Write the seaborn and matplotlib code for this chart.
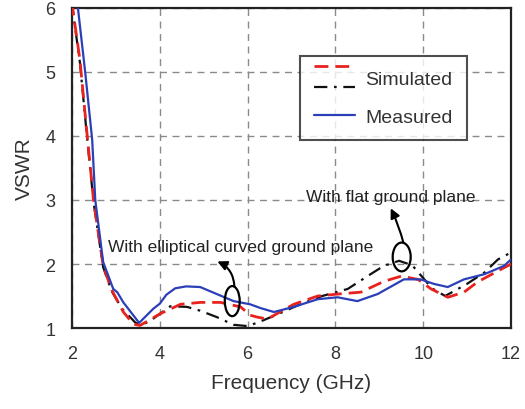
import matplotlib
matplotlib.use("Agg")
import matplotlib.pyplot as plt
import seaborn as sns
import pandas as pd
from matplotlib.lines import Line2D
from matplotlib.legend_handler import HandlerBase
from matplotlib.patches import Ellipse
from matplotlib.ticker import MultipleLocator

# ---- data ----
meas_x = [2.1, 2.14, 2.3, 2.46, 2.53, 2.71, 2.94, 3.03, 3.17, 3.53, 3.85, 4.0, 4.15, 4.35,
          4.6, 4.92, 5.3, 5.68, 6.06, 6.3, 6.6, 7.05, 7.6, 8.05, 8.5, 8.96, 9.3, 9.56,
          9.94, 10.24, 10.56, 10.93, 11.39, 11.84, 12.0]
meas_y = [6.25, 5.97, 5.0, 3.94, 3.0, 2.03, 1.61, 1.56, 1.4, 1.08, 1.3, 1.38, 1.52, 1.62,
          1.65, 1.64, 1.53, 1.42, 1.37, 1.31, 1.25, 1.33, 1.45, 1.48, 1.42, 1.53, 1.66, 1.76,
          1.76, 1.69, 1.64, 1.76, 1.84, 1.97, 2.07]

sim_ell_x = [2.0, 2.03, 2.18, 2.34, 2.49, 2.71, 2.9, 3.17, 3.4, 3.55, 3.75, 4.0, 4.47,
             4.92, 5.38, 5.84, 6.06, 6.22, 6.45, 7.05, 7.6, 8.05, 8.58, 9.11, 9.5, 9.88,
             10.18, 10.56, 10.93, 11.24, 11.7, 12.0]
sim_ell_y = [6.1, 5.92, 5.19, 4.05, 3.0, 1.97, 1.6, 1.25, 1.06, 1.04, 1.12, 1.22, 1.37,
             1.4, 1.4, 1.33, 1.2, 1.17, 1.14, 1.37, 1.5, 1.53, 1.56, 1.73, 1.81, 1.76,
             1.61, 1.48, 1.56, 1.72, 1.89, 2.0]

sim_flat_x = [2.0, 2.03, 2.18, 2.34, 2.49, 2.71, 2.9, 3.14, 3.45, 3.6, 3.8, 4.0, 4.24,
              4.62, 4.92, 5.3, 5.68, 6.0, 6.25, 6.6, 7.2, 7.7, 8.28, 8.73, 9.1, 9.45,
              9.75, 9.95, 10.2, 10.5, 11.0, 11.4, 11.7, 12.0]
sim_flat_y = [6.1, 5.9, 5.15, 4.0, 2.97, 1.95, 1.58, 1.3, 1.08, 1.05, 1.12, 1.22, 1.34,
              1.33, 1.27, 1.17, 1.05, 1.03, 1.09, 1.19, 1.37, 1.5, 1.61, 1.81, 1.97, 2.05,
              1.98, 1.82, 1.62, 1.5, 1.69, 1.87, 2.07, 2.18]

x_ticks = [2, 4, 6, 8, 10, 12]
y_ticks = [1, 2, 3, 4, 5, 6]

# ---- style ----
sns.set_style("white")
plt.rcParams['font.family'] = ['Liberation Sans', 'DejaVu Sans']

fig = plt.figure(figsize=(5.25, 4.1), dpi=100)
ax = fig.add_axes([72/525, 1-329/410, (511-72)/525, (329-9)/410])

RED = '#e8231f'
BLUE = '#2b3fb8'
BLACK = '#111111'

df_m = pd.DataFrame({'x': meas_x, 'y': meas_y})
df_e = pd.DataFrame({'x': sim_ell_x, 'y': sim_ell_y})
df_f = pd.DataFrame({'x': sim_flat_x, 'y': sim_flat_y})

sns.lineplot(data=df_f, x='x', y='y', ax=ax, color=BLACK, lw=1.6, sort=False,
             estimator=None, dashes=False, linestyle=(0, (6, 3, 1.2, 3)), zorder=3)
sns.lineplot(data=df_e, x='x', y='y', ax=ax, color=RED, lw=2.0, sort=False,
             estimator=None, linestyle=(0, (5, 2.5)), zorder=4)
sns.lineplot(data=df_m, x='x', y='y', ax=ax, color=BLUE, lw=1.6, sort=False,
             estimator=None, zorder=5)

ax.set_xlim(2, 12)
ax.set_ylim(1, 6)
ax.set_xticks(x_ticks)
ax.set_yticks(y_ticks)
ax.xaxis.set_minor_locator(MultipleLocator(1))
ax.grid(True, which='major', color='#8a8a8a', linestyle=(0, (5, 4)), lw=1.0)
ax.set_axisbelow(True)
for s in ax.spines.values():
    s.set_color('#222222')
    s.set_linewidth(1.6)
    s.set_visible(True)
ax.tick_params(axis='both', which='major', direction='inout', length=8, width=1.6,
               labelsize=13, color='#222222', labelcolor='#333333', pad=8)
ax.tick_params(axis='x', which='minor', direction='out', length=4, width=1.4, color='#222222')
ax.set_xlabel('Frequency (GHz)', fontsize=15, color='#333333', labelpad=8)
ax.set_ylabel('VSWR', fontsize=15, color='#333333', labelpad=8)


# ---- legend with stacked handle ----
class StackHandler(HandlerBase):
    def create_artists(self, legend, orig_handle, xdescent, ydescent, width, height,
                       fontsize, trans):
        yc = height / 2 - ydescent
        off = 0.54 * fontsize
        x0, x1 = -xdescent, -xdescent + width
        l1 = Line2D([x0, x1], [yc + off, yc + off], color=RED, lw=2.0,
                    linestyle=(0, (5, 2.5)), transform=trans)
        l2 = Line2D([x0, x1], [yc - off, yc - off], color=BLACK, lw=1.6,
                    linestyle=(0, (6, 3, 1.2, 3)), transform=trans)
        return [l1, l2]


class SimHandle:
    pass


h_sim = SimHandle()
h_meas = Line2D([], [], color=BLUE, lw=1.6)
leg = ax.legend([h_sim, h_meas], ['Simulated', 'Measured'],
                handler_map={SimHandle: StackHandler()},
                loc='upper left', bbox_to_anchor=((300-72)/439, (329-57)/320),
                fontsize=14, frameon=True, fancybox=False, edgecolor='#222222',
                handlelength=2.1, handletextpad=0.55, borderpad=0.72, labelspacing=1.05,
                borderaxespad=0)
leg.get_frame().set_linewidth(1.5)
for t in leg.get_texts():
    t.set_color('#333333')

# ---- annotations ----
ax.text(2.82, 2.28, 'With elliptical curved ground plane', fontsize=12.5,
        color='#222222', ha='left', va='center', zorder=6)
ax.text(7.32, 3.06, 'With flat ground plane', fontsize=12.5,
        color='#222222', ha='left', va='center', zorder=6)

ax.add_patch(Ellipse((5.65, 1.42), 0.34, 0.47, fill=False, ec='black', lw=1.6, zorder=7))
ax.add_patch(Ellipse((9.51, 2.11), 0.41, 0.45, fill=False, ec='black', lw=1.6, zorder=7))

ax.annotate('', xy=(5.31, 2.04), xytext=(5.7, 1.65),
            arrowprops=dict(arrowstyle='-|>', color='black', lw=1.5,
                            mutation_scale=14, connectionstyle='arc3,rad=0.3',
                            shrinkA=0, shrinkB=0), zorder=7)
ax.annotate('', xy=(9.26, 2.87), xytext=(9.55, 2.33),
            arrowprops=dict(arrowstyle='-|>', color='black', lw=1.5,
                            mutation_scale=14, connectionstyle='arc3,rad=0.05',
                            shrinkA=0, shrinkB=0), zorder=7)

fig.savefig('out.png', dpi=100)
